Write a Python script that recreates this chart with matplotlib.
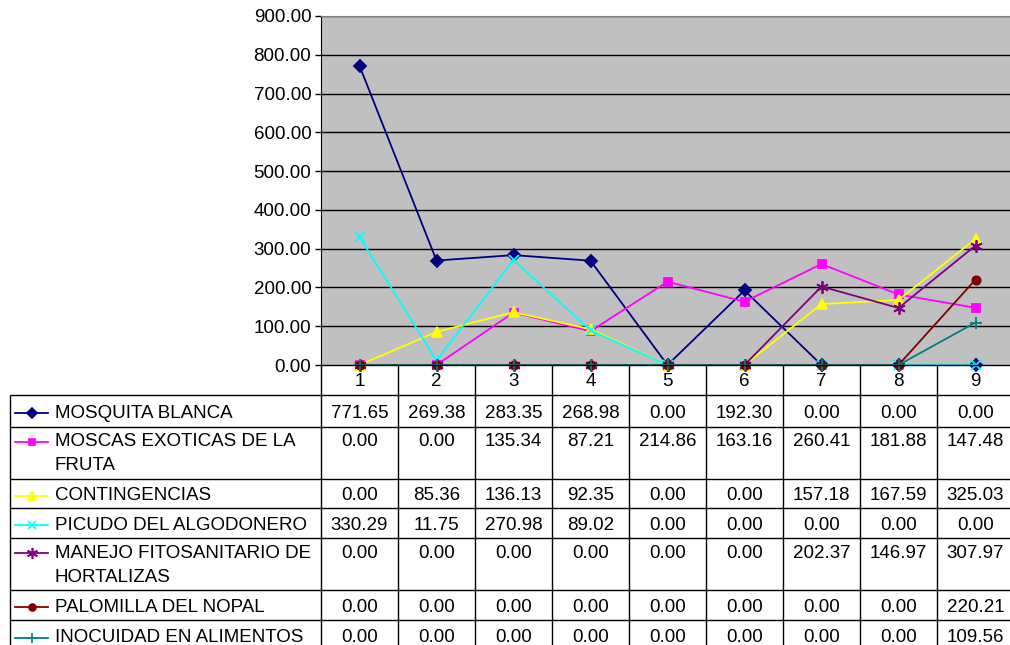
import matplotlib
matplotlib.use("Agg")
import matplotlib.pyplot as plt
from matplotlib.lines import Line2D

plt.rcParams['font.family'] = ['Liberation Sans', 'DejaVu Sans']

categories = [1, 2, 3, 4, 5, 6, 7, 8, 9]

series_names = [
    "MOSQUITA BLANCA",
    "MOSCAS EXOTICAS DE LA\nFRUTA",
    "CONTINGENCIAS",
    "PICUDO DEL ALGODONERO",
    "MANEJO FITOSANITARIO DE\nHORTALIZAS",
    "PALOMILLA DEL NOPAL",
    "INOCUIDAD EN ALIMENTOS",
]

mosquita_blanca = [771.65, 269.38, 283.35, 268.98, 0.00, 192.30, 0.00, 0.00, 0.00]
moscas_exoticas = [0.00, 0.00, 135.34, 87.21, 214.86, 163.16, 260.41, 181.88, 147.48]
contingencias = [0.00, 85.36, 136.13, 92.35, 0.00, 0.00, 157.18, 167.59, 325.03]
picudo_algodonero = [330.29, 11.75, 270.98, 89.02, 0.00, 0.00, 0.00, 0.00, 0.00]
manejo_hortalizas = [0.00, 0.00, 0.00, 0.00, 0.00, 0.00, 202.37, 146.97, 307.97]
palomilla_nopal = [0.00, 0.00, 0.00, 0.00, 0.00, 0.00, 0.00, 0.00, 220.21]
inocuidad_alimentos = [0.00, 0.00, 0.00, 0.00, 0.00, 0.00, 0.00, 0.00, 109.56]

y_ticks = [0, 100, 200, 300, 400, 500, 600, 700, 800, 900]

series_values = [mosquita_blanca, moscas_exoticas, contingencias, picudo_algodonero,
                 manejo_hortalizas, palomilla_nopal, inocuidad_alimentos]
colors = ["#000080", "#FF00FF", "#FFFF00", "#00FFFF", "#800080", "#800000", "#008080"]
markers = ["D", "s", "^", "x", (6, 2, 0), "o", "+"]
msizes = [6, 6, 7, 7, 9, 6, 8]

FS = 13.5
W, H = 1010, 645
fig = plt.figure(figsize=(W / 100, H / 100), dpi=100)

# plot area geometry in pixels
px_left, px_right, px_top, px_bottom = 321, 1010, 16, 365
col_w = 77.0

ax = fig.add_axes([px_left / W, 1 - px_bottom / H, (px_right - px_left) / W,
                   (px_bottom - px_top) / H])
ax.set_facecolor("#C0C0C0")
ax.set_xlim(0.5, 0.5 + (px_right - px_left) / col_w)
ax.set_ylim(0, 900)
ax.set_yticks(y_ticks)
ax.set_yticklabels([f"{t:.2f}" for t in y_ticks], fontsize=FS)
ax.set_xticks([])
for t in y_ticks[1:]:
    ax.axhline(t, color="black", lw=1.0, zorder=1)
for s in ["right", "bottom"]:
    ax.spines[s].set_visible(False)
ax.spines["top"].set_color("#808080")
ax.spines["left"].set_color("black")
ax.tick_params(axis="y", length=4, width=1, pad=3, colors="black")

for vals, c, m, ms in zip(series_values, colors, markers, msizes):
    ax.plot(categories, vals, color=c, lw=1.3, marker=m, markersize=ms,
            markerfacecolor=c, markeredgecolor=c, markeredgewidth=1.3,
            zorder=3, clip_on=False)

# data table drawn in pixel coordinates
tab = fig.add_axes([0, 0, 1, 1])
tab.set_xlim(0, W)
tab.set_ylim(H, 0)
tab.axis("off")
tab.patch.set_alpha(0)

col_edges = [px_left + col_w * i for i in range(10)]
row_edges = [395, 427, 479, 508, 538, 590, 620, 652]
cat_top = 365
lw = 1.0

def hline(y, x0, x1):
    tab.plot([x0, x1], [y, y], color="black", lw=lw, solid_capstyle="butt")

def vline(x, y0, y1):
    tab.plot([x, x], [y0, y1], color="black", lw=lw, solid_capstyle="butt")

# category header row
hline(cat_top, px_left, W)
hline(row_edges[0], 10, W)
for x in col_edges:
    vline(x, cat_top, row_edges[-1])
for i, c in enumerate(categories):
    tab.text(col_edges[i] + col_w / 2, (cat_top + row_edges[0]) / 2 + 2, str(c),
             ha="center", va="center", fontsize=FS)

vline(10, row_edges[0], row_edges[-1])
for y in row_edges[1:]:
    hline(y, 10, W)

line_h = 24
for r, (name, vals, c, m, ms) in enumerate(zip(series_names, series_values, colors,
                                                markers, msizes)):
    top, bot = row_edges[r], row_edges[r + 1]
    nlines = name.count("\n") + 1
    if nlines == 1:
        yc = (top + bot) / 2 + 2
    else:
        yc = top + 15
    tab.add_line(Line2D([15, 48], [yc, yc], color=c, lw=1.3, marker=None))
    tab.plot([31.5], [yc], marker=m, color=c, markersize=ms - 1,
             markeredgewidth=1.2, markerfacecolor=c, markeredgecolor=c)
    for k, part in enumerate(name.split("\n")):
        tab.text(55, yc + k * line_h, part, ha="left", va="center", fontsize=FS)
    for i, v in enumerate(vals):
        tab.text(col_edges[i] + col_w / 2, yc, f"{v:.2f}", ha="center",
                 va="center", fontsize=FS)

fig.savefig("out.png", dpi=100)
